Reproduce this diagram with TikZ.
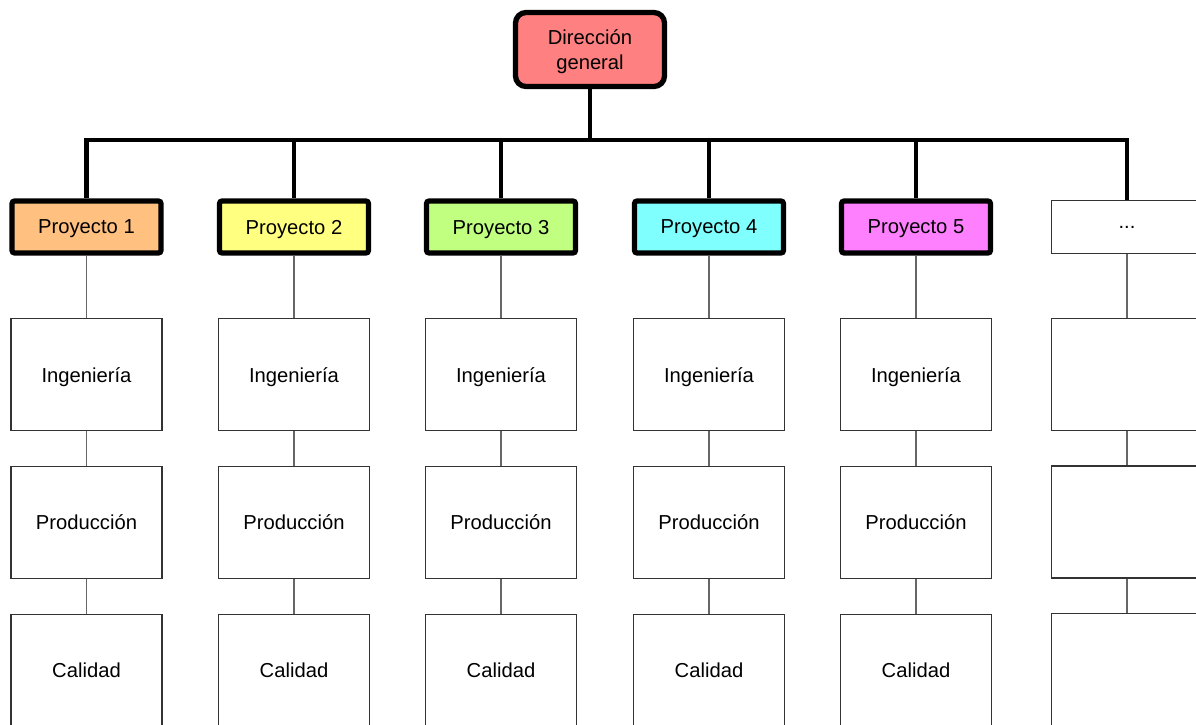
\documentclass[tikz,border=0pt]{standalone}
\usepackage{fontspec}
\setmainfont{Liberation Sans}
\usetikzlibrary{positioning}
\definecolor{cdir}{HTML}{FF8080}
\definecolor{cpone}{HTML}{FFC080}
\definecolor{cptwo}{HTML}{FFFF80}
\definecolor{cpthree}{HTML}{C0FF80}
\definecolor{cpfour}{HTML}{80FFFF}
\definecolor{cpfive}{HTML}{FF80FF}
\tikzset{
  head/.style ={rectangle,draw,line width=3pt,rounded corners=6pt,fill=cdir,
                minimum width=2.98cm,minimum height=1.48cm,align=center,inner sep=2pt,
                text depth=-4.5pt},
  proj/.style ={rectangle,draw,line width=3pt,rounded corners=1.5pt,
                minimum width=2.98cm,minimum height=1.04cm,inner sep=2pt,text depth=0pt},
  more/.style ={rectangle,draw=black!80,line width=0.7pt,
                minimum width=3.02cm,minimum height=1.06cm,inner sep=2pt,text depth=0pt},
  area/.style ={rectangle,draw=black!80,line width=0.7pt,
                minimum width=3.02cm,minimum height=2.24cm,inner sep=2pt,text depth=0pt},
  bus/.style  ={line width=2.6pt},
  link/.style ={draw=black!60,line width=0.8pt}
}

\begin{document}
\begin{tikzpicture}[font=\fontsize{11.5}{14.2}\selectfont]
\path[use as bounding box,clip] (0,0) rectangle (23.92,-14.48);

% -------- direction --------
\node[head] (dg) at (11.8,-0.99) {Dirección\\general};

% -------- projects --------
\node[proj,fill=cpone]   (p1) at (1.73,-4.54)  {Proyecto 1};
\node[proj,fill=cptwo]   (p2) at (5.88,-4.54)  {Proyecto 2};
\node[proj,fill=cpthree] (p3) at (10.02,-4.54) {Proyecto 3};
\node[proj,fill=cpfour]  (p4) at (14.18,-4.54) {Proyecto 4};
\node[proj,fill=cpfive]  (p5) at (18.32,-4.54) {Proyecto 5};
\node[more]              (p6) at (22.54,-4.54) {...};

% -------- areas per project --------
\node[area, below=1.25cm of p1] (ing1) {Ingeniería};
\node[area, below=1.25cm of p2] (ing2) {Ingeniería};
\node[area, below=1.25cm of p3] (ing3) {Ingeniería};
\node[area, below=1.25cm of p4] (ing4) {Ingeniería};
\node[area, below=1.25cm of p5] (ing5) {Ingeniería};
\node[area, below=1.27cm of p6] (ing6) {};

\node[area, below=0.69cm of ing1] (prod1) {Producción};
\node[area, below=0.69cm of ing2] (prod2) {Producción};
\node[area, below=0.69cm of ing3] (prod3) {Producción};
\node[area, below=0.69cm of ing4] (prod4) {Producción};
\node[area, below=0.69cm of ing5] (prod5) {Producción};
\node[area, below=0.69cm of ing6] (prod6) {};

\node[area, below=0.69cm of prod1] (cal1) {Calidad};
\node[area, below=0.69cm of prod2] (cal2) {Calidad};
\node[area, below=0.69cm of prod3] (cal3) {Calidad};
\node[area, below=0.69cm of prod4] (cal4) {Calidad};
\node[area, below=0.69cm of prod5] (cal5) {Calidad};
\node[area, below=0.69cm of prod6] (cal6) {};

% wiring: direction -> projects
\coordinate (bus) at (0,-2.8);
\draw[bus] (dg) -- (dg |- bus);
\foreach \p in {p1,p2,p3,p4,p5,p6} \draw[bus] (dg |- bus) -| (\p);

% wiring: project -> areas
\foreach \n in {1,...,6} {
  \draw[link] (p\n) -- (ing\n);
  \draw[link] (ing\n) -- (prod\n);
  \draw[link] (prod\n) -- (cal\n);
}

\end{tikzpicture}
\end{document}
